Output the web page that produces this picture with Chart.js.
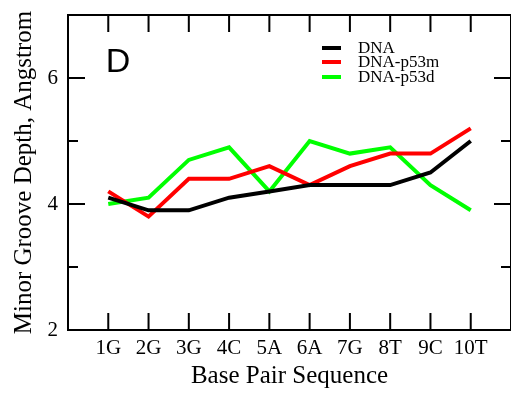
<!DOCTYPE html>
<html>
<head>
<meta charset="utf-8">
<script src="https://cdn.jsdelivr.net/npm/chart.js@4"></script>
<style>
    html, body { margin: 0; padding: 0; background: #fff; }
    #wrap { width: 511px; height: 394px; position: relative; }
</style>
</head>
<body>
<div id="wrap"><canvas id="grooveChart"></canvas></div>
<script>
const categories = ['1G', '2G', '3G', '4C', '5A', '6A', '7G', '8T', '9C', '10T'];
const dnaValues = [4.1, 3.9, 3.9, 4.1, 4.2, 4.3, 4.3, 4.3, 4.5, 5.0];
const p53mValues = [4.2, 3.8, 4.4, 4.4, 4.6, 4.3, 4.6, 4.8, 4.8, 5.2];
const p53dValues = [4.0, 4.1, 4.7, 4.9, 4.2, 5.0, 4.8, 4.9, 4.3, 3.9];
const yMajorTicks = [2, 4, 6];
const yMinorTicks = [3, 5, 7];
const seriesNames = ['DNA', 'DNA-p53m', 'DNA-p53d'];
const seriesColors = ['#000000', '#ff0000', '#00ff00'];

const serif = '"Liberation Serif", "Times New Roman", serif';

const toPoints = vals => vals.map((v, i) => ({ x: i + 1, y: v }));

// frame with inward ticks on all four sides, plus the "D" panel tag and legend
const framePlugin = {
    id: 'frame',
    afterDraw(chart) {
        const { ctx, chartArea: a, scales } = chart;
        const xs = scales.x, ys = scales.y;
        ctx.save();
        ctx.strokeStyle = '#000';
        ctx.lineWidth = 2;
        ctx.strokeRect(a.left, a.top, a.right - a.left, a.bottom - a.top);

        ctx.beginPath();
        categories.forEach((c, i) => {
            const px = xs.getPixelForValue(i + 1);
            ctx.moveTo(px, a.bottom); ctx.lineTo(px, a.bottom - 17);
            ctx.moveTo(px, a.top); ctx.lineTo(px, a.top + 17);
        });
        yMajorTicks.forEach(v => {
            const py = ys.getPixelForValue(v);
            ctx.moveTo(a.left, py); ctx.lineTo(a.left + 17, py);
            ctx.moveTo(a.right, py); ctx.lineTo(a.right - 17, py);
        });
        yMinorTicks.forEach(v => {
            const py = ys.getPixelForValue(v);
            ctx.moveTo(a.left, py); ctx.lineTo(a.left + 10, py);
            ctx.moveTo(a.right, py); ctx.lineTo(a.right - 10, py);
        });
        ctx.stroke();

        ctx.fillStyle = '#000';
        ctx.font = '34px "Liberation Sans", Arial, sans-serif';
        ctx.textAlign = 'center';
        ctx.textBaseline = 'middle';
        ctx.fillText('D', 118, 63);

        // legend
        ctx.font = '17px ' + serif;
        ctx.textAlign = 'left';
        const rows = [48, 62, 77];
        seriesNames.forEach((name, i) => {
            ctx.strokeStyle = seriesColors[i];
            ctx.lineWidth = 4;
            ctx.beginPath();
            ctx.moveTo(322, rows[i]); ctx.lineTo(341, rows[i]);
            ctx.stroke();
            ctx.fillText(name, 358, rows[i] + 1);
        });
        ctx.restore();
    }
};

const ctx = document.getElementById('grooveChart').getContext('2d');
new Chart(ctx, {
    type: 'line',
    data: {
        datasets: [
            { label: seriesNames[0], data: toPoints(dnaValues), borderColor: seriesColors[0] },
            { label: seriesNames[1], data: toPoints(p53mValues), borderColor: seriesColors[1] },
            { label: seriesNames[2], data: toPoints(p53dValues), borderColor: seriesColors[2] }
        ].map(d => Object.assign(d, { borderWidth: 4, pointRadius: 0, tension: 0, fill: false }))
    },
    options: {
        responsive: true,
        maintainAspectRatio: false,
        animation: false,
        layout: { padding: { top: 15, right: 0, left: 0, bottom: 0 } },
        plugins: { legend: { display: false }, tooltip: { enabled: false } },
        scales: {
            x: {
                type: 'linear',
                min: 0,
                max: 11,
                afterBuildTicks: s => { s.ticks = categories.map((c, i) => ({ value: i + 1 })); },
                afterFit: s => { s.height = 64; s.paddingLeft = 0; s.paddingRight = 0; },
                ticks: {
                    autoSkip: false,
                    maxRotation: 0,
                    padding: 6,
                    color: '#000',
                    font: { family: serif, size: 21 },
                    callback: v => categories[v - 1]
                },
                grid: { display: false, drawTicks: false },
                border: { display: false },
                title: {
                    display: true,
                    text: 'Base Pair Sequence',
                    color: '#000',
                    font: { family: serif, size: 25 },
                    padding: { top: 0, bottom: 3 }
                }
            },
            y: {
                min: 2,
                max: 7,
                afterBuildTicks: s => { s.ticks = yMajorTicks.map(v => ({ value: v })); },
                afterFit: s => { s.width = 68; s.paddingTop = 0; s.paddingBottom = 0; },
                ticks: {
                    padding: 10,
                    color: '#000',
                    font: { family: serif, size: 21 }
                },
                grid: { display: false, drawTicks: false },
                border: { display: false },
                title: {
                    display: true,
                    text: 'Minor Groove Depth, Angstrom',
                    color: '#000',
                    font: { family: serif, size: 25 },
                    padding: { top: 9, bottom: 0 }
                }
            }
        }
    },
    plugins: [framePlugin]
});
</script>
</body>
</html>
